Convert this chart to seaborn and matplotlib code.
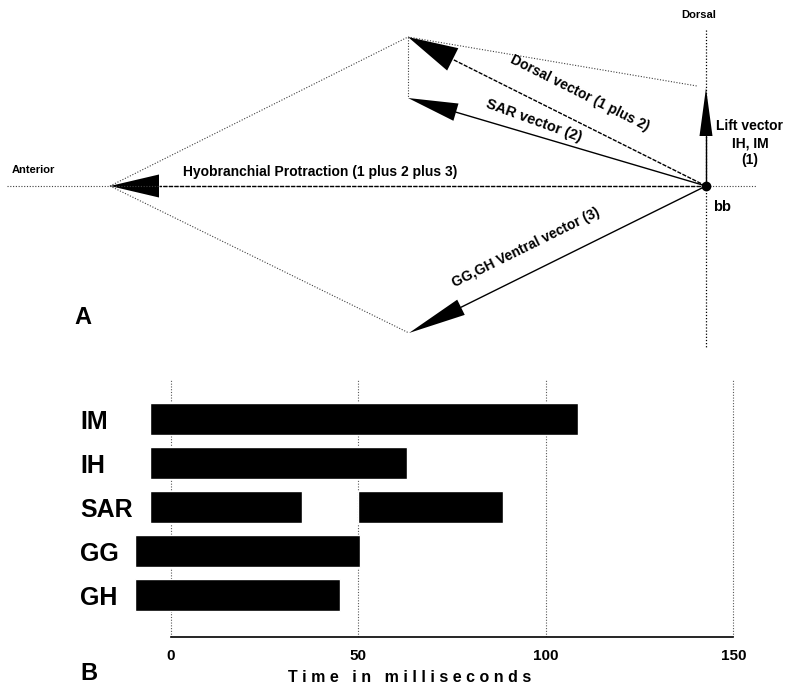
import numpy as np
import seaborn as sns
import matplotlib.pyplot as plt

sns.set_style('white')
plt.rcParams['font.family'] = ['Liberation Sans', 'DejaVu Sans']
plt.rcParams['text.color'] = 'black'
plt.rcParams['xtick.color'] = 'black'
plt.rcParams['ytick.color'] = 'black'

# ---- panel A: force vectors (units relative to basibranchial bb) ----
vec_names = ['lift', 'sar', 'dorsal', 'ventral', 'hyo']
vec_x = [0.0, -2.98, -2.98, -2.97, -5.96]
vec_y = [0.98, 0.88, 1.49, -1.47, 0.0]

# ---- panel B: EMG activity periods (ms) ----
muscles = ['IM', 'IH', 'SAR', 'GG', 'GH']
burst_start = [-5.5, -5.5, -5.5, -9.5, -9.5]
burst_end = [108.5, 63, 35, 50.5, 45]
extra_muscle = ['SAR']
extra_start = [50]
extra_end = [88.5]
time_ticks = [0, 50, 100, 150]

fig = plt.figure(figsize=(7.87, 6.88), dpi=100)

# Panel A
axA = fig.add_axes([0, 1 - 350 / 688, 1, 350 / 688])
axA.set_xlim(-7.06, 0.81)
axA.set_ylim(-1.64, 1.86)
axA.axis('off')

V = dict(zip(vec_names, zip(vec_x, vec_y)))
dot = dict(color='0.25', lw=0.8, linestyle=(0, (1, 1.5)))

# construction lines
axA.plot([-6.99, 0.51], [0, 0], **dot)
axA.plot([0, 0], [1.56, -1.62], color='black', lw=0.9, linestyle=(0, (1, 1.5)))
axA.plot([V['hyo'][0], V['dorsal'][0]], [0, V['dorsal'][1]], **dot)
axA.plot([V['hyo'][0], V['ventral'][0]], [0, V['ventral'][1]], **dot)
axA.plot([V['dorsal'][0], -0.09], [V['dorsal'][1], 1.0], **dot)
axA.plot([V['dorsal'][0], V['sar'][0]], [V['dorsal'][1], V['sar'][1]], **dot)

heads = {'lift': (0.48, 0.13), 'sar': (0.5, 0.18), 'dorsal': (0.5, 0.25),
         'ventral': (0.58, 0.17), 'hyo': (0.49, 0.23)}
shaft = {'lift': '-', 'sar': '-', 'dorsal': (0, (3, 1)),
         'ventral': '-', 'hyo': (0, (3, 1))}

for name in vec_names:
    tip = np.array(V[name])
    u = tip / np.hypot(*tip)
    n = np.array([-u[1], u[0]])
    L, W = heads[name]
    base = tip - L * u
    axA.plot([0, base[0]], [0, base[1]], color='black', lw=1.0,
             linestyle=shaft[name])
    tri = np.array([tip, base + W / 2 * n, base - W / 2 * n])
    axA.fill(tri[:, 0], tri[:, 1], color='black', lw=0)

axA.plot([0], [0], 'o', color='black', ms=6)

axA.text(-6.94, 0.16, 'Anterior', fontsize=8, fontweight='bold', va='center')
axA.text(-0.07, 1.71, 'Dorsal', fontsize=8, fontweight='bold', ha='center', va='center')
axA.text(-5.23, 0.14, 'Hyobranchial Protraction (1 plus 2 plus 3)',
         fontsize=10, fontweight='bold', va='center')
axA.text(-1.26, 0.93, 'Dorsal vector (1 plus 2)', fontsize=10, fontweight='bold',
         ha='center', va='center', rotation=-26.6, rotation_mode='anchor')
axA.text(-1.72, 0.65, 'SAR vector (2)', fontsize=10.5, fontweight='bold',
         ha='center', va='center', rotation=-20, rotation_mode='anchor')
axA.text(-1.80, -0.62, 'GG,GH Ventral vector (3)', fontsize=10, fontweight='bold',
         ha='center', va='center', rotation=26.3, rotation_mode='anchor')
axA.text(0.44, 0.43, 'Lift vector\nIH, IM\n(1)', fontsize=10, fontweight='bold',
         ha='center', va='center', linespacing=1.25)
axA.text(0.16, -0.21, 'bb', fontsize=10.5, fontweight='bold', ha='center', va='center')

fig.text(83 / 787, 1 - 317 / 688, 'A', fontsize=17, fontweight='bold',
         ha='center', va='center')

# Panel B
axB = fig.add_axes([126 / 787, 51 / 688, 611 / 787, 257 / 688])
ypos = {m: i for i, m in enumerate(muscles)}
axB.barh([ypos[m] for m in muscles], np.array(burst_end) - np.array(burst_start),
         left=burst_start, height=0.73, color='black')
axB.barh([ypos[m] for m in extra_muscle], np.array(extra_end) - np.array(extra_start),
         left=extra_start, height=0.73, color='black')

axB.set_xlim(-12, 151)
axB.set_ylim(4.95, -0.886)
axB.set_xticks(time_ticks)
axB.set_xticklabels([str(t) for t in time_ticks], fontsize=11, fontweight='bold')
axB.set_yticks(range(len(muscles)))
axB.set_yticklabels(muscles, fontsize=18, fontweight='bold')
axB.tick_params(axis='y', length=0, pad=33)
axB.tick_params(axis='x', length=0, pad=9)
for lab in axB.get_yticklabels():
    lab.set_ha('left')
axB.grid(axis='x', color='0.35', lw=0.8, linestyle=(0, (1, 1.5)))
axB.grid(axis='y', visible=False)
sns.despine(ax=axB, left=True)
axB.spines['bottom'].set_bounds(0, 150)
axB.spines['bottom'].set_linewidth(1.2)
axB.spines['bottom'].set_color('black')

fig.text(410 / 787, 1 - 678 / 688, 'T i m e   i n   m i l l i s e c o n d s',
         fontsize=11.5, fontweight='bold', ha='center', va='center')
fig.text(89 / 787, 1 - 673 / 688, 'B', fontsize=17, fontweight='bold',
         ha='center', va='center')

plt.savefig('out.png', dpi=100)
